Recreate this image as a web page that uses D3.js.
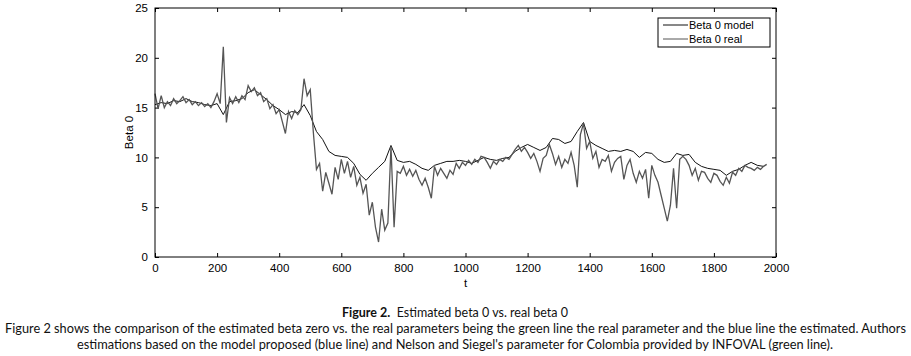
<!DOCTYPE html>
<html>
<head>
<meta charset="utf-8">
<script src="https://cdn.jsdelivr.net/npm/d3@7"></script>
<style>
  body { margin: 0; background: #fff; }
  svg { display: block; }
  .tick text { font-family: "Liberation Sans", Arial, sans-serif; font-size: 11.5px; }
  .caption { font-family: "Lato", "Noto Sans", sans-serif; font-size: 12.5px; fill: #111; }
</style>
</head>
<body>
<svg id="chart" width="911" height="356"></svg>
<script>
// t step of each series
var realStep = 10;
var modelStep = 20;

// Beta 0 real (t = 0, 10, 20, ...)
var betaReal = [
  16.4, 14.9, 16.2, 15.0, 15.6, 15.2, 15.9, 15.4, 15.7, 16.1,
  15.5, 15.8, 15.3, 15.6, 15.2, 15.5, 15.1, 15.4, 15.0, 15.6,
  16.4, 15.4, 21.1, 13.5, 16.0, 15.4, 16.1, 15.5, 16.2, 15.8,
  17.2, 16.6, 17.0, 16.2, 16.5, 15.6, 15.9, 14.9, 15.3, 14.4,
  14.8, 13.6, 12.4, 14.6, 13.9, 14.7, 14.3, 14.8, 17.9, 16.2,
  16.8, 12.5, 8.8, 9.4, 6.6, 8.5, 7.4, 6.3, 9.0, 7.8,
  9.8, 8.4, 9.6, 8.0, 9.1, 7.2, 8.0, 6.4, 7.3, 4.2,
  5.5, 3.0, 1.5, 4.8, 2.7, 3.4, 11.1, 3.0, 8.6, 8.4,
  9.1, 8.2, 8.8, 8.1, 8.7, 7.8, 7.2, 7.9, 7.0, 5.9,
  9.1, 8.2, 8.9, 8.4, 7.9, 8.7, 8.3, 9.4, 8.9, 9.5,
  9.2, 9.7, 9.3, 9.8, 9.5, 10.1, 10.0, 9.5, 8.9, 9.6,
  9.3, 9.8, 9.6, 10.0, 9.8, 10.3, 10.8, 11.2, 10.6, 11.0,
  10.5, 9.9, 10.4, 9.6, 8.6, 9.9, 10.2, 11.3, 10.4, 9.3,
  10.1, 9.0, 9.8, 9.4, 10.5, 9.2, 7.0, 12.3, 13.4, 10.9,
  11.6, 9.9, 10.6, 9.0, 9.8, 9.6, 10.2, 8.6, 9.5, 9.9,
  10.1, 7.8, 9.2, 9.8, 8.4, 7.5, 8.6, 7.9, 8.8, 5.9,
  9.2, 8.2, 7.5, 6.2, 4.9, 3.6, 5.2, 8.9, 4.9, 9.8,
  10.1, 9.8, 9.2, 8.2, 8.9, 7.7, 8.6, 8.5, 7.9, 7.5,
  8.4, 8.2, 7.6, 7.2, 8.0, 7.4, 8.5, 8.2, 8.9, 8.6,
  9.2, 9.0, 8.9, 8.7, 9.0, 8.8, 9.1, 9.3
];

// Beta 0 model (t = 0, 20, 40, ...)
var betaModel = [
  15.3, 15.5, 15.4, 15.7, 15.6, 15.9, 15.6, 15.5, 15.3, 15.2,
  15.4, 14.3, 15.6, 15.7, 15.9, 16.5, 16.8, 16.3, 15.8, 15.2,
  14.8, 14.3, 14.6, 14.5, 15.3, 14.2, 12.6, 11.8, 10.6, 10.2,
  10.1, 10.0, 9.4, 8.3, 7.7, 8.4, 9.0, 9.6, 11.2, 9.7,
  9.5, 9.6, 9.3, 8.9, 8.7, 9.2, 9.4, 9.6, 9.6, 9.7,
  9.6, 9.4, 9.7, 10.0, 9.8, 9.7, 9.9, 10.0, 10.6, 11.0,
  11.3, 11.0, 10.7, 11.0, 11.9, 11.8, 11.4, 11.6, 12.6, 13.5,
  11.6, 11.2, 10.9, 10.6, 10.7, 10.6, 10.8, 10.6, 10.0, 10.5,
  10.4, 9.8, 9.5, 9.6, 10.4, 10.2, 10.3, 9.5, 9.1, 8.9,
  8.8, 8.7, 8.2, 8.6, 8.8, 9.2, 9.5, 9.2, 9.1
];

var xTicks = [0, 200, 400, 600, 800, 1000, 1200, 1400, 1600, 1800, 2000];
var yTicks = [0, 5, 10, 15, 20, 25];
var seriesNames = ["Beta 0 model", "Beta 0 real"];
var seriesColors = ["#111", "#555"];

(function () {
    var svg = d3.select("#chart");
    var left = 155, right = 776, plotTop = 8, bottom = 257;

    var x = d3.scaleLinear().domain([0, 2000]).range([left, right]);
    var y = d3.scaleLinear().domain([0, 25]).range([bottom, plotTop]);

    function axisStyle(g) {
        g.select(".domain").remove();
        g.selectAll(".tick line").attr("stroke", "#000");
        g.selectAll(".tick text").attr("fill", "#000");
    }

    // bottom + top axes, ticks pointing inward
    svg.append("g")
        .attr("transform", "translate(0," + bottom + ")")
        .call(d3.axisBottom(x).tickValues(xTicks).tickSizeInner(-4).tickSizeOuter(0).tickPadding(7).tickFormat(d3.format("d")))
        .call(axisStyle);
    svg.append("g")
        .attr("transform", "translate(0," + plotTop + ")")
        .call(d3.axisTop(x).tickValues(xTicks).tickSizeInner(-4).tickSizeOuter(0).tickFormat(""))
        .call(axisStyle);
    svg.append("g")
        .attr("transform", "translate(" + left + ",0)")
        .call(d3.axisLeft(y).tickValues(yTicks).tickSizeInner(-4).tickSizeOuter(0).tickPadding(7))
        .call(axisStyle);
    svg.append("g")
        .attr("transform", "translate(" + right + ",0)")
        .call(d3.axisRight(y).tickValues(yTicks).tickSizeInner(-4).tickSizeOuter(0).tickFormat(""))
        .call(axisStyle);

    var lineReal = d3.line()
        .x(function(d, i) { return x(i * realStep); })
        .y(function(d) { return y(d); });
    var lineModel = d3.line()
        .x(function(d, i) { return x(i * modelStep); })
        .y(function(d) { return y(d); });

    svg.append("path")
        .datum(betaModel)
        .attr("d", lineModel)
        .attr("fill", "none")
        .attr("stroke", seriesColors[0])
        .attr("stroke-width", 1);

    svg.append("path")
        .datum(betaReal)
        .attr("d", lineReal)
        .attr("fill", "none")
        .attr("stroke", seriesColors[1])
        .attr("stroke-width", 1.3);

    // plot box
    svg.append("rect")
        .attr("x", left).attr("y", plotTop)
        .attr("width", right - left).attr("height", bottom - plotTop)
        .attr("fill", "none").attr("stroke", "#000").attr("stroke-width", 1);

    // legend
    var legend = svg.append("g").attr("transform", "translate(658,18)");
    legend.append("rect")
        .attr("width", 112).attr("height", 29)
        .attr("fill", "#fff").attr("stroke", "#000").attr("stroke-width", 1);
    seriesNames.forEach(function(name, i) {
        legend.append("line")
            .attr("x1", 5).attr("x2", 30)
            .attr("y1", 7 + i * 14).attr("y2", 7 + i * 14)
            .attr("stroke", seriesColors[i]).attr("stroke-width", 1);
        legend.append("text")
            .attr("x", 31).attr("y", 11 + i * 14)
            .style("font-family", "Liberation Sans, Arial, sans-serif")
            .style("font-size", "11px")
            .text(name);
    });

    // axis titles
    svg.append("text")
        .attr("x", (left + right) / 2).attr("y", 287)
        .attr("text-anchor", "middle")
        .style("font-family", "Liberation Sans, Arial, sans-serif")
        .style("font-size", "11.5px")
        .text("t");
    svg.append("text")
        .attr("transform", "translate(133," + ((plotTop + bottom) / 2) + ") rotate(-90)")
        .attr("text-anchor", "middle")
        .style("font-family", "Liberation Sans, Arial, sans-serif")
        .style("font-size", "11.5px")
        .text("Beta 0");

    // caption
    var cap1 = svg.append("text").attr("class", "caption")
        .attr("x", 455).attr("y", 317).attr("text-anchor", "middle");
    cap1.append("tspan").style("font-weight", "bold").text("Figure 2.");
    cap1.append("tspan").text("\u00a0 Estimated beta 0 vs. real beta 0");

    svg.append("text").attr("class", "caption")
        .attr("x", 5).attr("y", 333)
        .attr("textLength", 901).attr("lengthAdjust", "spacingAndGlyphs")
        .text("Figure 2 shows the comparison of the estimated beta zero vs. the real parameters being the green line the real parameter and the blue line the estimated. Authors");
    svg.append("text").attr("class", "caption")
        .attr("x", 77).attr("y", 349)
        .attr("textLength", 756).attr("lengthAdjust", "spacingAndGlyphs")
        .text("estimations based on the model proposed (blue line) and Nelson and Siegel's parameter for Colombia provided by INFOVAL (green line).");
})();
</script>
</body>
</html>
